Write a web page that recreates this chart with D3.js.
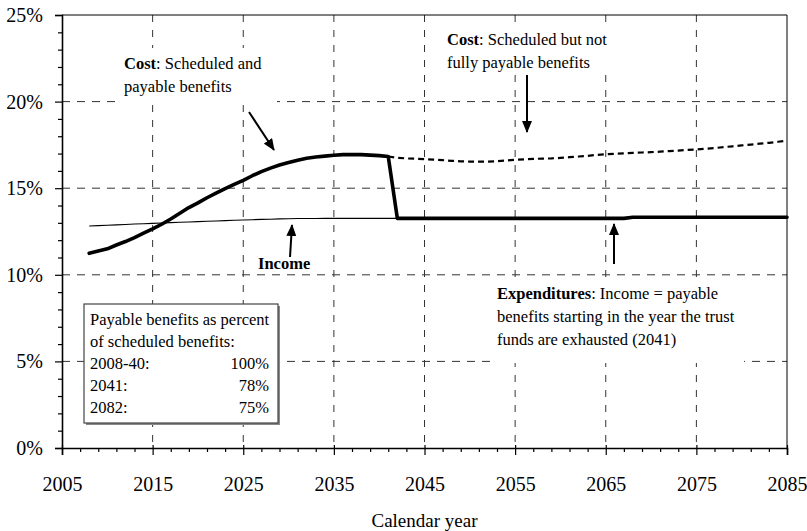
<!DOCTYPE html>
<html>
<head>
<meta charset="utf-8">
<script src="https://cdn.jsdelivr.net/npm/d3@7"></script>
<style>
  html, body { margin: 0; padding: 0; background: #fff; }
  svg { display: block; font-family: "Liberation Serif", "Times New Roman", serif; }
</style>
</head>
<body>
<svg id="chart" width="807" height="531"></svg>
<script>
// ---------------- data ----------------
const costYears = d3.range(2008, 2042);
const costValues = [11.24, 11.38, 11.50, 11.72, 11.92, 12.15, 12.40, 12.65, 12.92, 13.22,
  13.55, 13.88, 14.15, 14.45, 14.72, 14.98, 15.22, 15.45, 15.72, 15.96,
  16.16, 16.34, 16.48, 16.62, 16.73, 16.80, 16.85, 16.90, 16.94, 16.95,
  16.94, 16.91, 16.88, 16.83];

const incomeYears = d3.range(2008, 2086);
const incomeValues = [12.82, 12.84, 12.86, 12.88, 12.90, 12.93, 12.95, 12.97, 12.99, 13.01,
  13.03, 13.05, 13.07, 13.09, 13.11, 13.13, 13.15, 13.16, 13.18, 13.20,
  13.21, 13.23, 13.24, 13.25, 13.25, 13.25, 13.26, 13.26, 13.26, 13.26,
  13.26, 13.26, 13.26, 13.26, 13.26, 13.26, 13.26, 13.26, 13.26, 13.26,
  13.26, 13.26, 13.26, 13.26, 13.26, 13.26, 13.26, 13.26, 13.26, 13.26,
  13.26, 13.26, 13.26, 13.26, 13.26, 13.26, 13.26, 13.26, 13.26, 13.26,
  13.32, 13.32, 13.32, 13.32, 13.32, 13.32, 13.32, 13.32, 13.32, 13.32,
  13.32, 13.32, 13.32, 13.32, 13.32, 13.32, 13.32, 13.32];

const scheduledYears = d3.range(2041, 2086);
const scheduledValues = [16.83, 16.76, 16.72, 16.70, 16.68, 16.65, 16.62, 16.58, 16.55, 16.54,
  16.53, 16.53, 16.56, 16.60, 16.64, 16.67, 16.69, 16.71, 16.72, 16.75,
  16.79, 16.83, 16.87, 16.92, 16.96, 16.99, 17.01, 17.04, 17.06, 17.08,
  17.11, 17.14, 17.17, 17.21, 17.24, 17.28, 17.32, 17.37, 17.42, 17.47,
  17.52, 17.57, 17.62, 17.68, 17.74];

const xTickValues = [2005, 2015, 2025, 2035, 2045, 2055, 2065, 2075, 2085];
const yTickValues = [0, 5, 10, 15, 20, 25];
const legendRows = [["2008-40:", "100%"], ["2041:", "78%"], ["2082:", "75%"]];

// ---------------- layout ----------------
const svg = d3.select("#chart");
const L = 62, R = 787, T = 15, B = 448;
const x = d3.scaleLinear().domain([2005, 2085]).range([L, R]);
const y = d3.scaleLinear().domain([0, 25]).range([B, T]);

// gridlines
const grid = svg.append("g");
grid.selectAll("line.h").data(yTickValues.filter(v => v > 0 && v < 25)).join("line")
  .attr("x1", L).attr("x2", R).attr("y1", d => y(d)).attr("y2", d => y(d))
  .attr("stroke", "#333").attr("stroke-width", 1).attr("stroke-dasharray", "8,7");
grid.selectAll("line.v").data(xTickValues.filter(v => v > 2005 && v < 2085)).join("line")
  .attr("x1", d => x(d)).attr("x2", d => x(d)).attr("y1", T).attr("y2", B)
  .attr("stroke", "#333").attr("stroke-width", 1).attr("stroke-dasharray", "7,8");

// frame (top and right)
svg.append("line").attr("x1", L).attr("x2", R).attr("y1", T).attr("y2", T).attr("stroke", "#000").attr("stroke-width", 1);
svg.append("line").attr("x1", R).attr("x2", R).attr("y1", T).attr("y2", B).attr("stroke", "#000").attr("stroke-width", 1);

// white boxes behind annotations
svg.append("rect").attr("x", 122).attr("y", 48).attr("width", 155).attr("height", 57).attr("fill", "#fff");
svg.append("rect").attr("x", 440).attr("y", 22).attr("width", 175).attr("height", 50).attr("fill", "#fff");
svg.append("rect").attr("x", 490).attr("y", 278).attr("width", 254).attr("height", 85).attr("fill", "#fff");

// axes
const xAxis = d3.axisBottom(x).tickValues(xTickValues).tickFormat(d3.format("d")).tickSize(7).tickPadding(22);
const gx = svg.append("g").attr("transform", `translate(0,${B})`).call(xAxis);
gx.selectAll(".tick line").attr("y1", -3);
const xMinor = d3.axisBottom(x).tickValues(d3.range(2005, 2086, 2).filter(v => (v - 2005) % 10 !== 0)).tickSize(4).tickFormat("");
svg.append("g").attr("transform", `translate(0,${B})`).call(xMinor).call(g => g.select(".domain").remove());

const yAxis = d3.axisLeft(y).tickValues(yTickValues).tickFormat(d => d + "%").tickSize(7).tickPadding(12);
const gy = svg.append("g").attr("transform", `translate(${L},0)`).call(yAxis);
const yMinor = d3.axisLeft(y).tickValues(d3.range(0, 26, 1).filter(v => v % 5 !== 0)).tickSize(4).tickFormat("");
svg.append("g").attr("transform", `translate(${L},0)`).call(yMinor).call(g => g.select(".domain").remove());

svg.selectAll(".domain").attr("stroke", "#000").attr("stroke-width", 1.6);
svg.selectAll(".tick line").attr("stroke", "#000").attr("stroke-width", 1.2);
svg.selectAll(".tick text").attr("font-family", "Liberation Serif, serif").attr("font-size", 20).attr("fill", "#000");

svg.append("text").attr("x", (L + R) / 2).attr("y", 527).attr("text-anchor", "middle")
  .attr("font-size", 19).text("Calendar year");

// lines
const line = d3.line().x(d => x(d[0])).y(d => y(d[1]));
const incomeData = incomeYears.map((yr, i) => [yr, incomeValues[i]]);
const costData = costYears.map((yr, i) => [yr, costValues[i]]);
const expData = costData.concat(incomeData.filter(d => d[0] > 2041));
const schedData = scheduledYears.map((yr, i) => [yr, scheduledValues[i]]);

svg.append("path").datum(incomeData).attr("d", line).attr("fill", "none").attr("stroke", "#000").attr("stroke-width", 1.1);
svg.append("path").datum(schedData).attr("d", line).attr("fill", "none").attr("stroke", "#000").attr("stroke-width", 2.2).attr("stroke-dasharray", "6,4");
svg.append("path").datum(expData).attr("d", line).attr("fill", "none").attr("stroke", "#000").attr("stroke-width", 3.6).attr("stroke-linejoin", "round").attr("stroke-linecap", "round");

// arrows
const defs = svg.append("defs");
defs.append("marker").attr("id", "ah").attr("viewBox", "0 0 12 10").attr("refX", 11).attr("refY", 5)
  .attr("markerWidth", 12).attr("markerHeight", 10).attr("markerUnits", "userSpaceOnUse").attr("orient", "auto")
  .append("path").attr("d", "M0,0 L12,5 L0,10 Z").attr("fill", "#000");
const arrows = [[249, 112, 274, 150], [527, 75, 527, 132], [290, 257, 292, 225], [614, 264, 614, 224]];
svg.selectAll("line.arrow").data(arrows).join("line")
  .attr("x1", d => d[0]).attr("y1", d => d[1]).attr("x2", d => d[2]).attr("y2", d => d[3])
  .attr("stroke", "#000").attr("stroke-width", 2).attr("marker-end", "url(#ah)");

// annotation texts
function rich(xp, yp, parts) {
  const t = svg.append("text").attr("x", xp).attr("y", yp).attr("font-size", 16.5).attr("fill", "#000");
  parts.forEach(p => t.append("tspan").attr("font-weight", p[1] ? "bold" : "normal").text(p[0]));
  return t;
}
rich(124, 69, [["Cost", true], [": Scheduled and", false]]);
rich(124, 92, [["payable benefits", false]]);
rich(447, 45, [["Cost", true], [": Scheduled but not", false]]);
rich(447, 68, [["fully payable benefits", false]]);
rich(258, 269, [["Income", true]]);
rich(497, 299, [["Expenditures", true], [": Income = payable", false]]);
rich(497, 322, [["benefits starting in the year the trust", false]]);
rich(497, 345, [["funds are exhausted (2041)", false]]);

// legend box (with slight shadow)
svg.append("rect").attr("x", 86).attr("y", 306).attr("width", 194).attr("height", 119).attr("fill", "#888");
svg.append("rect").attr("x", 84).attr("y", 304).attr("width", 194).attr("height", 119)
  .attr("fill", "#fff").attr("stroke", "#444").attr("stroke-width", 1.2);
rich(90, 325, [["Payable benefits as percent", false]]);
rich(90, 347, [["of scheduled benefits:", false]]);
legendRows.forEach((r, i) => {
  rich(90, 369 + i * 22, [[r[0], false]]);
  svg.append("text").attr("x", 269).attr("y", 369 + i * 22).attr("text-anchor", "end")
    .attr("font-size", 16.5).text(r[1]);
});
</script>
</body>
</html>
